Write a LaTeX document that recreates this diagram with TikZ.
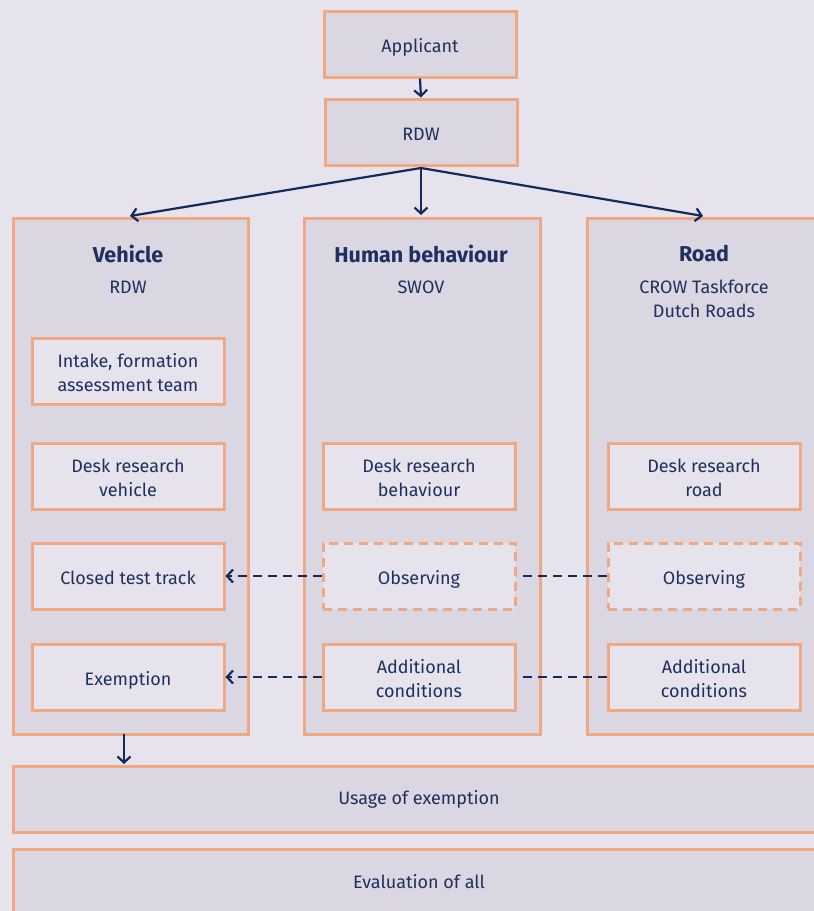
\documentclass[tikz,border=0pt]{standalone}
\usepackage{fontspec}
\setmainfont{Fira Sans}
\usetikzlibrary{arrows.meta}
\definecolor{bgc}{HTML}{E6E3EC}
\definecolor{colfill}{HTML}{DAD7E2}
\definecolor{orangeb}{HTML}{EFA881}
\definecolor{navy}{HTML}{1F2F5F}
\definecolor{arrowc}{HTML}{142A5C}
\tikzset{
  box/.style={draw=orangeb, line width=3pt, fill=colfill, text=navy, align=center, font=\fontsize{18}{24}\selectfont, inner sep=0pt, text height=17pt, text depth=1pt},
  inner/.style={box, fill=bgc, minimum width=192pt, minimum height=66pt},
  dbox/.style={inner, dash pattern=on 9pt off 6pt},
  col/.style={draw=orangeb, line width=3pt, fill=colfill},
  mlab/.style={text=navy, align=center, font=\fontsize{18}{24}\selectfont, inner sep=0pt, yshift=-2pt},
  mtext/.style={label={[mlab]center:{#1}}},
  arr/.style={draw=arrowc, line width=2.2pt, -{Straight Barb[length=6pt,width=13pt,line width=2.2pt]}},
  darr/.style={arr, dash pattern=on 9pt off 6pt},
  dline/.style={draw=arrowc, line width=2.2pt, dash pattern=on 9pt off 6pt},
  title/.style={text=navy, font=\fontsize{21.5}{24}\selectfont\bfseries},
  sub/.style={text=navy, align=center, font=\fontsize{18}{24}\selectfont},
}
\begin{document}
\begin{tikzpicture}[x=1pt,y=-1pt]
\fill[bgc] (0,0) rectangle (814,911);
\useasboundingbox (0,0) rectangle (814,911);
\clip (0,0) rectangle (814,911);
% top
\node[box, minimum width=192pt, minimum height=66pt] (app) at (420,44) {Applicant};
\node[box, minimum width=192pt, minimum height=66pt] (rdw) at (421,132) {RDW};
% columns
\node[col, minimum width=235pt, minimum height=516pt, anchor=north west] (veh) at (12,217) {};
\node[col, minimum width=236pt, minimum height=516pt, anchor=north west] (hum) at (303,217) {};
\node[col, minimum width=236pt, minimum height=516pt, anchor=north west] (road) at (586,217) {};
\node[title] (vt) at (128,254) {Vehicle};
\node[sub] (vs) at (128,287) {RDW};
\node[title] (ht) at (421,254) {Human behaviour};
\node[sub] (hs) at (421,287) {SWOV};
\node[title] (rt) at (704,254) {Road};
\node[sub] (rs) at (704,299) {CROW Taskforce\\Dutch Roads};
% inner boxes
\node[inner, mtext={Intake, formation\\assessment team}] (intake) at (128,371) {};
\node[inner, mtext={Desk research\\vehicle}] (dv) at (128,476) {};
\node[inner] (ctt) at (128,576) {Closed test track};
\node[inner] (ex) at (128,677) {Exemption};
\node[inner, mtext={Desk research\\behaviour}] (dh) at (419,476) {};
\node[dbox] (oh) at (419,576) {Observing};
\node[inner, mtext={Additional\\conditions}] (ah) at (419,677) {};
\node[inner, mtext={Desk research\\road}] (dr) at (704,476) {};
\node[dbox] (or) at (704,576) {Observing};
\node[inner, mtext={Additional\\conditions}] (ar) at (704,677) {};
% bottom
\node[box, minimum width=810pt, minimum height=66pt, anchor=north west] (use) at (12,765) {};
\node[sub] (uset) at (419,799) {Usage of exemption};
\node[box, minimum width=810pt, minimum height=66pt, anchor=north west] (eval) at (12,848) {};
\node[sub] (evalt) at (419,882) {Evaluation of all};
% arrows
\draw[arr] (app.south) -- (rdw.north);
\coordinate (split) at (421,168);
\draw[arr] (split) -- (130,216);
\draw[arr] (split) -- (421,215);
\draw[arr] (split) -- (703,216);
\draw[darr] (oh.west) -- (ctt.east);
\draw[darr] (ah.west) -- (ex.east);
\draw[dline] (or.west) -- (oh.east);
\draw[dline] (ar.west) -- (ah.east);
\draw[arr] (124,734) -- (124,764);
\end{tikzpicture}
\end{document}
